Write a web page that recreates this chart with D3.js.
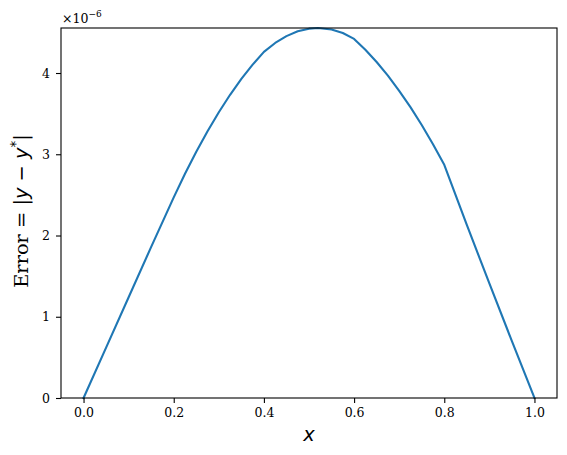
<!DOCTYPE html>
<html lang="en">
<head>
<meta charset="UTF-8" />
<title>Error plot</title>
<style>
  * { margin:0; padding:0; }
  body { background:#fff; width:567px; height:455px; overflow:hidden; }
  svg { display:block; }
  .tick text { font-family:'DejaVu Serif',serif; font-size:12.5px; fill:#000; }
  .tick line, .domain { stroke:#000; stroke-width:1.1px; }
  .lbl { font-family:'DejaVu Serif',serif; fill:#000; }
  .math { font-family:'DejaVu Sans',sans-serif; font-style:italic; }
</style>
</head>
<body>
<script src="https://d3js.org/d3.v7.min.js"></script>
<script>
  // values (error in units of 1e-6)
  const xs   = [0, 0.05, 0.1, 0.15, 0.2, 0.225, 0.25, 0.275, 0.3, 0.325, 0.35, 0.375, 0.4,
                0.425, 0.45, 0.475, 0.5, 0.52, 0.55, 0.575, 0.6,
                0.625, 0.65, 0.675, 0.7, 0.725, 0.75, 0.775, 0.8, 0.85, 0.9, 0.95, 1.0];
  const errs = [0, 0.62, 1.24, 1.86, 2.47, 2.76, 3.03, 3.284, 3.517, 3.732, 3.927, 4.103, 4.26,
                4.37, 4.454, 4.513, 4.546, 4.554, 4.536, 4.492, 4.42,
                4.286, 4.136, 3.968, 3.78, 3.58, 3.36, 3.124, 2.87, 2.13, 1.41, 0.70, 0];
  const xTicks = [0, 0.2, 0.4, 0.6, 0.8, 1.0];
  const yTicks = [0, 1, 2, 3, 4];

  const W = 567, H = 455;
  const m = {left:61, right:557, top:28, bottom:398};

  const svg = d3.select('body').append('svg').attr('width', W).attr('height', H);

  const x = d3.scaleLinear().domain([-0.05, 1.05]).range([m.left, m.right]);
  const y = d3.scaleLinear().domain([0, d3.max(errs)]).range([m.bottom, m.top]);

  // line
  const pts = xs.map((v, i) => [v, errs[i]]);
  svg.append('path').datum(pts)
    .attr('fill', 'none').attr('stroke', '#1f77b4').attr('stroke-width', 2.1)
    .attr('stroke-linejoin', 'round').attr('stroke-linecap', 'square')
    .attr('d', d3.line().x(d => x(d[0])).y(d => y(d[1])));

  // axes
  const gx = svg.append('g').attr('transform', `translate(0,${m.bottom})`)
    .call(d3.axisBottom(x).tickValues(xTicks).tickFormat(d3.format('.1f')).tickSize(5).tickPadding(5).tickSizeOuter(0));
  const gy = svg.append('g').attr('transform', `translate(${m.left},0)`)
    .call(d3.axisLeft(y).tickValues(yTicks).tickFormat(d3.format('d')).tickSize(5).tickPadding(6).tickSizeOuter(0));
  gx.select('.domain').remove();
  gy.select('.domain').remove();

  // frame
  svg.append('rect').attr('x', m.left).attr('y', m.top)
    .attr('width', m.right - m.left).attr('height', m.bottom - m.top)
    .attr('fill', 'none').attr('stroke', '#000').attr('stroke-width', 1.1);

  // offset text
  const off = svg.append('text').attr('class', 'lbl').attr('x', 62).attr('y', 23).style('font-size', '12.5px');
  off.append('tspan').text('×10');
  off.append('tspan').attr('dy', -6).style('font-size', '9px').text('−6');

  // x label
  svg.append('text').attr('class', 'math').attr('x', (m.left + m.right) / 2).attr('y', 441)
    .attr('text-anchor', 'middle').style('font-size', '19.4px').text('x');

  // y label
  const yl = svg.append('text').attr('class', 'lbl')
    .attr('transform', `translate(28,${(m.top + m.bottom) / 2 - 2}) rotate(-90)`)
    .attr('text-anchor', 'middle').style('font-size', '19.4px');
  yl.append('tspan').text('Error = ');
  yl.append('tspan').attr('class', 'math').style('font-style', 'normal').text('|');
  yl.append('tspan').attr('class', 'math').text('y');
  yl.append('tspan').attr('class', 'math').style('font-style', 'normal').text(' − ');
  yl.append('tspan').attr('class', 'math').text('y');
  yl.append('tspan').attr('class', 'math').style('font-style', 'normal').attr('dy', -8).style('font-size', '13.5px').text('*');
  yl.append('tspan').attr('class', 'math').style('font-style', 'normal').attr('dy', 8).text('|');
</script>
</body>
</html>
